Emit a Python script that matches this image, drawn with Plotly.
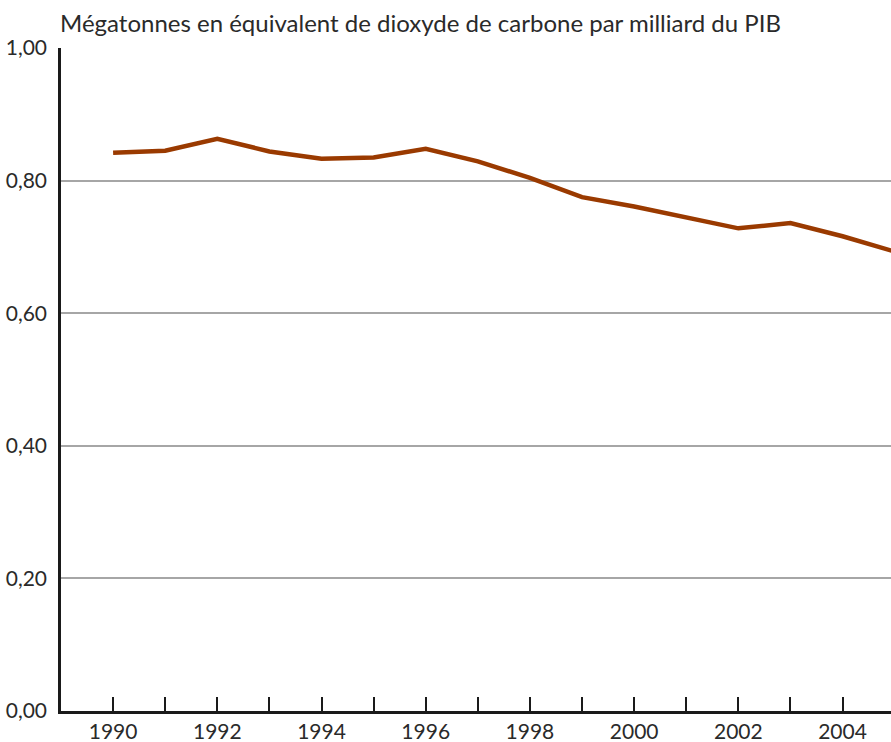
import plotly.graph_objects as go

# intensité des émissions, Mt éq. CO2 par milliard du PIB
annees = list(range(1990, 2006))
intensite = [0.842, 0.845, 0.863, 0.844, 0.833, 0.835, 0.848, 0.829,
             0.804, 0.775, 0.761, 0.744, 0.728, 0.736, 0.716, 0.693]

y_ticks = [0.0, 0.2, 0.4, 0.6, 0.8, 1.0]
y_labels = ["0,00", "0,20", "0,40", "0,60", "0,80", "1,00"]
x_ticks = list(range(1990, 2005))
x_labels = [str(a) if a % 2 == 0 else "" for a in x_ticks]

FONT = "Lato"

fig = go.Figure()
fig.add_trace(go.Scatter(x=annees, y=intensite, mode="lines",
                         line=dict(color="#9a3a00", width=4.5),
                         hoverinfo="x+y"))

fig.update_layout(
    width=891, height=742,
    margin=dict(l=61, r=0, t=48, b=31),
    plot_bgcolor="white", paper_bgcolor="white",
    showlegend=False,
    font=dict(family=FONT, size=21, color="#2a2a2a"),
)
fig.update_xaxes(
    range=[1989, 2004.93],
    tickmode="array", tickvals=x_ticks, ticktext=x_labels,
    ticks="inside", ticklen=14, tickwidth=2, tickcolor="#1a1a1a",
    showline=True, linecolor="#1a1a1a", linewidth=2.5,
    showgrid=False, zeroline=False,
    tickfont=dict(family=FONT, size=21, color="#2a2a2a"),
)
fig.update_yaxes(
    range=[0, 1.0],
    tickmode="array", tickvals=y_ticks, ticktext=y_labels,
    ticks="", showline=True, linecolor="#1a1a1a", linewidth=2.5,
    showgrid=True, gridcolor="#a6a6a6", gridwidth=2,
    zeroline=False, ticklabelstandoff=7,
    tickfont=dict(family=FONT, size=21, color="#2a2a2a"),
)

fig.add_annotation(
    text="Mégatonnes en équivalent de dioxyde de carbone par milliard du PIB",
    xref="paper", yref="paper", x=0, y=1, xshift=-3, yshift=9,
    xanchor="left", yanchor="bottom", showarrow=False,
    font=dict(family=FONT, size=24, color="#2a2a2a"),
)

# la page n'a pas de marge autour du graphique
fig.write_html("out.html", config={"displayModeBar": False},
               post_script="document.body.style.margin='0';")
